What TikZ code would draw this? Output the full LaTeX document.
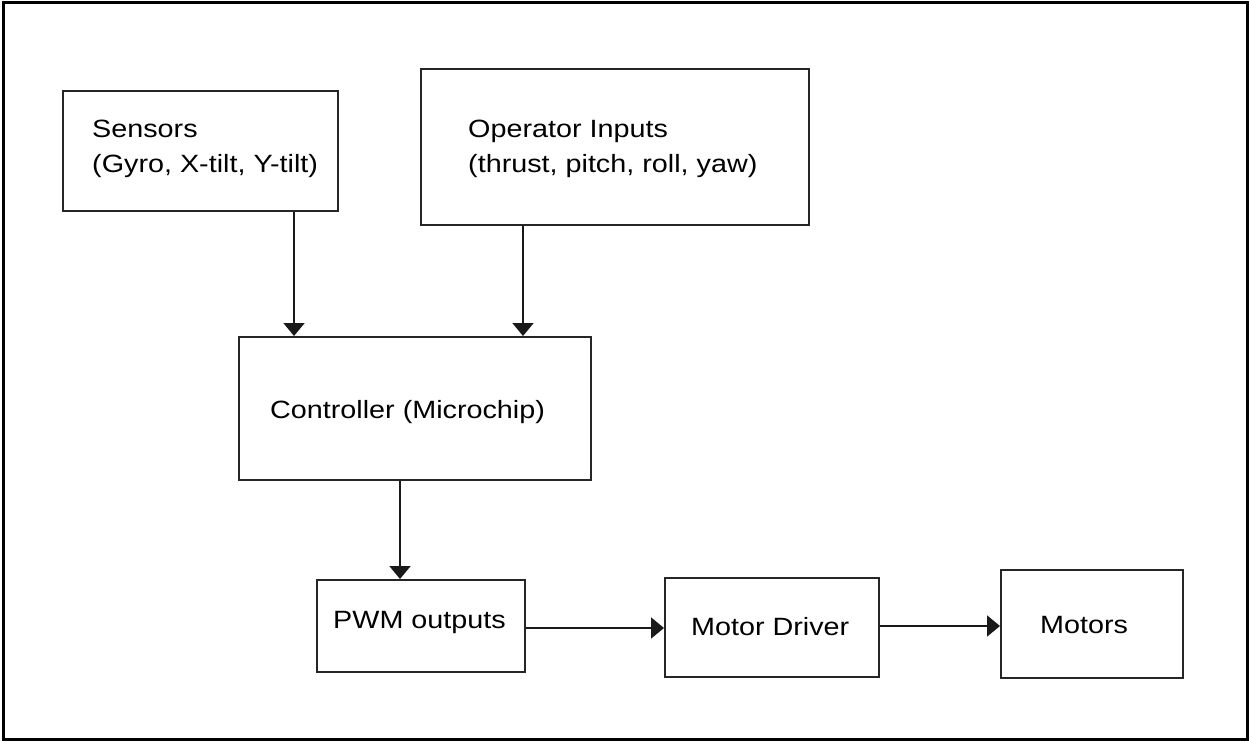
\documentclass[tikz,border=0pt]{standalone}
\usepackage{fontspec}
\setmainfont{Liberation Sans}
\usetikzlibrary{arrows.meta}
\newcommand{\lbl}[1]{\scalebox{1.15}[1]{\begin{tabular}[t]{@{}l@{}}#1\end{tabular}}}
\begin{document}
\begin{tikzpicture}[x=1pt,y=-1pt,
  box/.style={draw=black!85, line width=2pt, rectangle, inner sep=0pt},
  txt/.style={anchor=base west, inner sep=0pt, font=\fontsize{25}{35}\selectfont},
  arr/.style={draw=black!90, line width=2pt, -{Triangle[width=21pt,length=13pt]}}]
\useasboundingbox (0,0) rectangle (1250,741);
\fill[white] (0,0) rectangle (1250,741);
\node[draw, line width=3pt, minimum width=1244, minimum height=736, inner sep=0pt] (frame) at (625,371) {};
% boxes
\node[box, minimum width=275, minimum height=120] (sens) at (200.5,151) {};
\node[box, minimum width=388, minimum height=156] (oper) at (615,147) {};
\node[box, minimum width=352, minimum height=143] (ctrl) at (415,408.5) {};
\node[box, minimum width=208, minimum height=92] (pwm) at (421,626) {};
\node[box, minimum width=214, minimum height=99] (drv) at (772,627.5) {};
\node[box, minimum width=182, minimum height=108] (mot) at (1092,624) {};
% texts
\node[txt] (sensT) at (92,138) {\lbl{Sensors\\(Gyro, X-tilt, Y-tilt)}};
\node[txt] (operT) at (468,138) {\lbl{Operator Inputs\\(thrust, pitch, roll, yaw)}};
\node[txt] (ctrlT) at (270,418) {\lbl{Controller (Microchip)}};
\node[txt] (pwmT) at (333,628) {\lbl{PWM outputs}};
\node[txt] (drvT) at (691,635) {\lbl{Motor Driver}};
\node[txt] (motT) at (1040,633) {\lbl{Motors}};
% connectors
\draw[arr] ([xshift=-45pt]sens.south east) -- ([xshift=-45pt]sens.south east |- ctrl.north);
\draw[arr] ([xshift=103pt]oper.south west) -- ([xshift=103pt]oper.south west |- ctrl.north);
\draw[arr] ([xshift=162pt]ctrl.south west) -- ([xshift=162pt]ctrl.south west |- pwm.north);
\draw[arr] ([yshift=-2pt]pwm.east) -- ([yshift=-2pt]pwm.east -| drv.west);
\draw[arr] ([yshift=1.5pt]drv.east) -- ([yshift=1.5pt]drv.east -| mot.west);
\end{tikzpicture}
\end{document}
